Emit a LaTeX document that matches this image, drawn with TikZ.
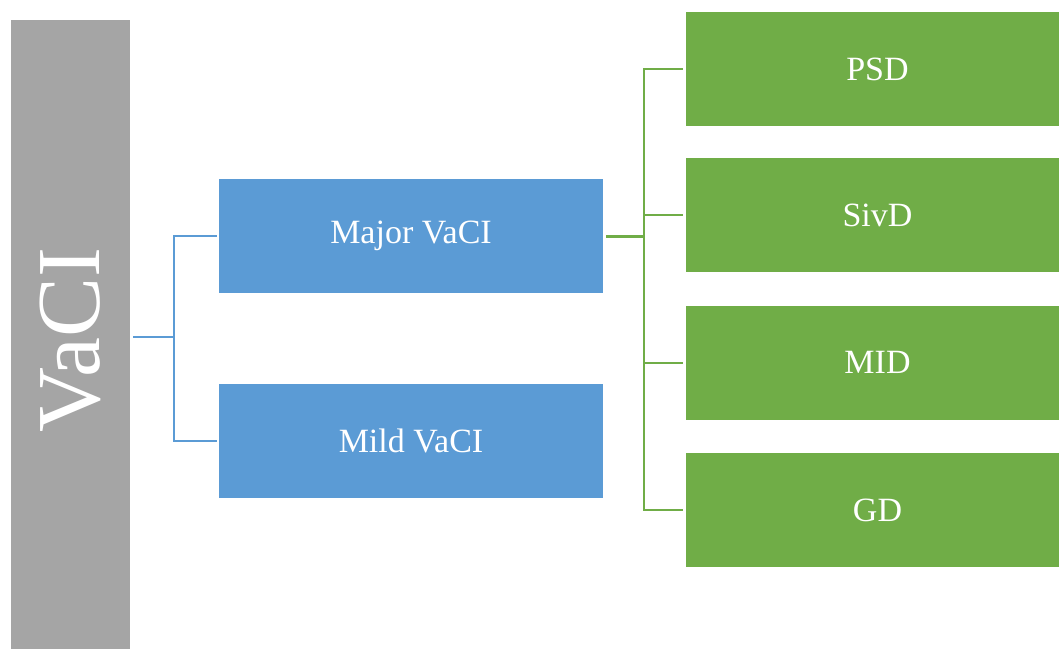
\documentclass[tikz,border=0pt]{standalone}
\usepackage{fontspec}
\setmainfont{Liberation Serif}
\definecolor{boxgray}{HTML}{A5A5A5}
\definecolor{boxblue}{HTML}{5B9BD5}
\definecolor{boxgreen}{HTML}{70AD47}
\newcommand{\leaftext}[1]{\hspace*{10pt}#1}
\begin{document}
\begin{tikzpicture}[x=1pt,y=-1pt,
  box/.style={draw=none,minimum width=#1,inner sep=0pt,text=white,font=\fontsize{34}{40}\selectfont},
  midbox/.style={box=384pt,minimum height=114pt,fill=boxblue},
  leafbox/.style={box=373pt,minimum height=114pt,fill=boxgreen},
  blueline/.style={draw=boxblue,line width=2pt},
  greenline/.style={draw=boxgreen,line width=2pt}]
\useasboundingbox (0,0) rectangle (1059,648);
% root column
\node[fill=boxgray,minimum width=119pt,minimum height=640pt,inner sep=0pt,anchor=north west] (root) at (11,20) {};
\node[rotate=90,text=white,font=\fontsize{90}{92}\selectfont] (roottext) at (70.5,340) {VaCI};
% second level
\node[midbox] (major) at (411,236) {Major VaCI};
\node[midbox] (mild) at (411,441) {Mild VaCI};
% third level
\node[leafbox] (psd) at (872.5,69) {\leaftext{PSD}};
\node[leafbox] (sivd) at (872.5,215) {\leaftext{SivD}};
\node[leafbox] (mid) at (872.5,362.5) {\leaftext{MID}};
\node[leafbox] (gd) at (872.5,510) {\leaftext{GD}};
% connectors from the root
\coordinate (rootout) at (133,337);
\coordinate (rootbus) at (174,337);
\draw[blueline] (rootout) -- (rootbus);
\draw[blueline] (major.west) ++(-2,0) -| (rootbus) |- ([xshift=-2pt]mild.west);
% connectors from Major VaCI
\coordinate (majorout) at (606,236);
\coordinate (majorbus) at (644,236);
\draw[boxgreen,line width=3pt] (majorout) -- (majorbus);
\draw[greenline] ([xshift=-3pt]psd.west) -| (majorbus) |- ([xshift=-3pt]gd.west);
\draw[greenline] (majorbus |- sivd.west) -- ([xshift=-3pt]sivd.west);
\draw[greenline] (majorbus |- mid.west) -- ([xshift=-3pt]mid.west);
\end{tikzpicture}
\end{document}
